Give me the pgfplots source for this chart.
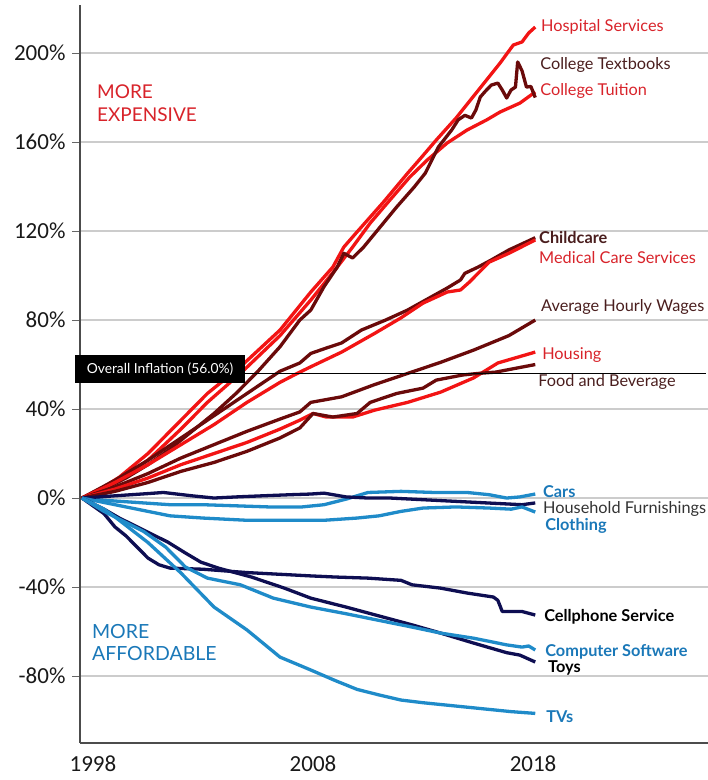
\documentclass[border=0pt]{standalone}
\usepackage{pgfplots}
\pgfplotsset{compat=1.18}
\usepackage{fontspec}
\setmainfont{Lato}
\newfontfamily\tickfont{Carlito}
\definecolor{bred}{HTML}{F21414}
\definecolor{dred}{HTML}{6A0A0A}
\definecolor{navy}{HTML}{0E0E52}
\definecolor{lblue}{HTML}{1F8BC9}
\definecolor{tred}{HTML}{D8232A}
\definecolor{tdark}{HTML}{4A1E1E}
\definecolor{tblue}{HTML}{1A78B8}
\definecolor{gridgray}{HTML}{CCCCCC}
\begin{document}
\begin{tikzpicture}
\useasboundingbox (-80pt,-37pt) rectangle (628pt,743pt);
\begin{axis}[
  at={(0,0)}, anchor=south west,
  scale only axis, width=628pt, height=738pt,
  xmin=1997.41, xmax=2025.95, ymin=-110.1, ymax=221.6,
  axis x line*=bottom, axis y line*=left,
  axis line style={draw=black!70, line width=1.5pt},
  xtick={1998,2008,2018}, xticklabels={1998,2008,2018},
  xtick style={draw=none},
  ytick={-80,-40,0,40,80,120,160,200},
  yticklabel={\pgfmathprintnumber{\tick}\%},
  /pgf/number format/assume math mode=true,
  ymajorgrids, grid style={gridgray, line width=1.5pt},
  tick align=outside, major tick length=8pt,
  ytick style={black!60, line width=1pt},
  ticklabel style={font=\tickfont\fontsize{23}{25}\selectfont, text=black!90},
  xticklabel style={yshift=-1pt},
  yticklabel style={xshift=-3pt},
  every axis plot/.append style={line width=3.3pt, line join=round, no markers},
  clip=false,
]
% Hospital Services
\addplot[bred] coordinates {(1997.5,0) (1998.5,5) (1999.2,9.4) (2000.5,20) (2002,35) (2003.2,47) (2004.7,59) (2006.5,75.5) (2007.9,92.6) (2008.9,103.8) (2009.4,112.8) (2010,119.6) (2011.2,133) (2012.3,146) (2012.9,152.8) (2013.6,160.9) (2014.5,170.8) (2015.7,185.6) (2016.5,195.5) (2017.1,203.6) (2017.5,205) (2017.8,209) (2018.1,211.7)};
% College Tuition
\addplot[bred] coordinates {(1997.5,0) (1999.2,8) (2000.5,17) (2002,31) (2003.2,43) (2004.7,56) (2006.5,73) (2007.9,89) (2009.1,103.8) (2009.8,112.8) (2010.6,123.6) (2011.5,134) (2012.4,144.3) (2013.2,152) (2014.1,159.6) (2015,165.4) (2015.9,170) (2016.5,173.5) (2017.4,177.5) (2018.1,182.5)};
% College Textbooks
\addplot[dred] coordinates {(1997.5,0) (1998.5,4) (1999.5,9) (2000.5,15) (2001.5,22) (2002.5,30) (2003.5,38) (2004.5,47) (2005.5,57) (2006.5,68) (2007.4,80) (2007.9,84.5) (2008.5,95) (2009.1,103.8) (2009.4,110) (2009.8,107.9) (2010.3,112.8) (2011.2,123.6) (2011.8,130.8) (2012.6,139.8) (2013.1,146) (2013.7,157.8) (2014.3,165.4) (2014.6,170) (2014.9,172) (2015.2,170.8) (2015.4,174.4) (2015.6,180.2) (2015.8,182.5) (2016.1,185.6) (2016.4,186.5) (2016.6,183.4) (2016.8,179.8) (2017.0,183.4) (2017.2,184.7) (2017.3,196) (2017.5,192) (2017.7,184.7) (2017.9,185) (2018.1,180)};
% Childcare
\addplot[dred] coordinates {(1997.5,0) (1999,8) (2000.5,17) (2002,27) (2003.5,37) (2005,47) (2006.5,57) (2007.4,60.7) (2007.9,65) (2008.6,67.4) (2009.3,69.7) (2010.2,75.5) (2011.3,80) (2012.3,84.5) (2013.3,90) (2014.1,94.4) (2014.7,98) (2014.9,101) (2015.5,103.8) (2016.1,107) (2016.9,111.5) (2018.1,117)};
% Medical Care Services
\addplot[bred] coordinates {(1997.5,0) (1999,7) (2000.5,15) (2002,24) (2003.5,33) (2005,43) (2006.5,52) (2007.4,56.6) (2007.9,59) (2009.3,65.6) (2010.8,74) (2012,81) (2013,87.6) (2014.1,92.6) (2014.7,93.5) (2015.1,97) (2016,106) (2016.9,110) (2018.1,116)};
% Average Hourly Wages
\addplot[dred] coordinates {(1997.5,0) (1999,5) (2000.5,11) (2002,18) (2003.5,24) (2005,30) (2006.5,35.5) (2007.4,38.7) (2007.9,43) (2009.3,45.5) (2010.8,51) (2012.3,56) (2013.8,61) (2015.3,66.5) (2016.9,73) (2018.1,80)};
% Housing
\addplot[bred] coordinates {(1997.5,0) (1999,4) (2000.5,9) (2002,15) (2003.5,20) (2005,25) (2006.5,31) (2007.4,35) (2008,38) (2008.6,36.4) (2009.8,36.4) (2010.8,39.5) (2012.3,43) (2013.8,47.6) (2015.3,54) (2016.4,60.7) (2018.1,65.6)};
% Food and Beverage
\addplot[dred] coordinates {(1997.5,0) (1999,3) (2000.5,7) (2002,12) (2003.5,16) (2005,21) (2006.5,27) (2007.4,31.5) (2008,38) (2008.9,36.4) (2010,38) (2010.6,43) (2011.8,47) (2013,49.4) (2013.6,53) (2014.8,55.3) (2015.5,56) (2016.3,56.6) (2018.1,60)};
% Cars
\addplot[lblue] coordinates {(1997.5,0) (1998.5,-1) (2000,-2) (2001.5,-3) (2003,-3) (2004.5,-3.5) (2006,-4) (2007.5,-4) (2008.5,-3) (2009.5,-0.5) (2010.5,2.5) (2012,3) (2013.5,2.5) (2015,2.5) (2016,1.5) (2016.8,0) (2017.4,0.5) (2018.1,1.8)};
% Household Furnishings
\addplot[navy] coordinates {(1997.5,0) (1999,1) (2000.5,2) (2001.2,2.5) (2002.5,1) (2003.5,0) (2004.5,0.5) (2005.7,1) (2007,1.5) (2007.9,1.8) (2008.5,2.2) (2009.5,0.5) (2010.5,0) (2011.5,0) (2012.5,-0.5) (2013.5,-1) (2014.5,-1.5) (2015.5,-2) (2016.5,-2.5) (2017.5,-3) (2018.1,-2.2)};
% Clothing
\addplot[lblue] coordinates {(1997.5,0) (1998.5,-2) (1999.5,-4) (2000.5,-6) (2001.5,-8) (2003,-9) (2005,-10) (2007,-10) (2008.5,-10) (2010,-9) (2011,-8) (2012,-6) (2013,-4.5) (2014.5,-4) (2016,-4.5) (2017,-5) (2017.5,-4) (2018.1,-6.3)};
% Cellphone Service
\addplot[navy] coordinates {(1997.5,0) (1998.5,-7) (1999,-13) (1999.5,-17) (2000,-22) (2000.5,-27) (2001,-30) (2001.5,-31.5) (2003,-32) (2005,-33.5) (2007.9,-35) (2009,-35.5) (2010.5,-36) (2012,-37) (2012.5,-39) (2013.8,-40.5) (2015,-42.7) (2016.2,-44.5) (2016.4,-46) (2016.6,-51) (2017.5,-51) (2018.1,-52.6)};
% Toys
\addplot[navy] coordinates {(1997.5,0) (1998.5,-5) (1999.2,-9) (2000.3,-14.4) (2001.4,-19.8) (2002.2,-24.7) (2002.9,-28.8) (2003.7,-31.5) (2005.2,-35.5) (2006.7,-40.5) (2007.9,-45) (2009.5,-49) (2011,-53) (2012.5,-57) (2013.8,-60.7) (2015.3,-65.2) (2016.8,-69.5) (2017.4,-70.6) (2018.1,-73.7)};
% Computer Software
\addplot[lblue] coordinates {(1997.5,0) (1998.5,-6) (1999.5,-11) (2000.3,-15) (2001.3,-22) (2002.2,-31) (2003.2,-36) (2004.7,-39) (2006.2,-45) (2007.9,-49) (2009.5,-52) (2011,-55) (2012.5,-58) (2013.8,-60.7) (2015.3,-63) (2016.8,-66) (2017.5,-67) (2017.8,-66.5) (2018.1,-68.3)};
% TVs
\addplot[lblue] coordinates {(1997.5,0) (1998.5,-5) (1999,-8.5) (2000.5,-20) (2002,-33.7) (2003.5,-49) (2005,-59.3) (2006.5,-71.5) (2007.9,-77.3) (2009,-82) (2010,-86) (2011,-88.5) (2012,-90.8) (2013,-92) (2014,-93) (2015,-94) (2016,-95) (2017,-96) (2018.1,-96.8)};
% Overall inflation
\addplot[black, line width=1.5pt] coordinates {(1997.41,56) (2025.85,56)};
\node[fill=black, text=white, minimum width=170pt, minimum height=28pt, inner sep=0pt, font=\fontsize{13.8}{15}\selectfont] at (axis cs:2001.05,58) {Overall Inflation (56.0\%)};
% labels
\begin{scope}[every node/.style={anchor=west, inner sep=0pt, font=\fontsize{16.3}{18}\selectfont}]
\node[text=tred] at (axis cs:2018.36,211.7) {Hospital Services};
\node[text=tdark] at (axis cs:2018.32,194.6) {College Textbooks};
\node[text=tred] at (axis cs:2018.32,182.9) {College Tuition};
\node[text=tdark, font=\fontsize{16.3}{18}\selectfont\bfseries] at (axis cs:2018.27,117.3) {Childcare};
\node[text=tred] at (axis cs:2018.27,107.9) {Medical Care Services};
\node[text=tdark] at (axis cs:2018.36,85.8) {Average Hourly Wages};
\node[text=tred] at (axis cs:2018.41,64.3) {Housing};
\node[text=tdark] at (axis cs:2018.23,52.1) {Food and Beverage};
\node[text=tblue, font=\fontsize{16.3}{18}\selectfont\bfseries] at (axis cs:2018.45,3.1) {Cars};
\node[text=black!80] at (axis cs:2018.45,-4.9) {Household Furnishings};
\node[text=tblue, font=\fontsize{16.3}{18}\selectfont\bfseries] at (axis cs:2018.55,-12.6) {Clothing};
\node[text=black, font=\fontsize{16.3}{18}\selectfont\bfseries] at (axis cs:2018.5,-53.5) {Cellphone Service};
\node[text=tblue, font=\fontsize{16.3}{18}\selectfont\bfseries] at (axis cs:2018.55,-69.2) {Computer Software};
\node[text=black, font=\fontsize{16.3}{18}\selectfont\bfseries] at (axis cs:2018.68,-76.4) {Toys};
\node[text=tblue, font=\fontsize{16.3}{18}\selectfont\bfseries] at (axis cs:2018.59,-98.4) {TVs};
\end{scope}
\node[anchor=west, align=left, inner sep=0pt, text=tred, font=\fontsize{19}{23}\selectfont] at (axis cs:1998.18,177.3) {MORE\\EXPENSIVE};
\node[anchor=west, align=left, inner sep=0pt, text=tblue, font=\fontsize{19.5}{22}\selectfont] at (axis cs:1997.95,-65) {MORE\\AFFORDABLE};
\end{axis}
\end{tikzpicture}
\end{document}
